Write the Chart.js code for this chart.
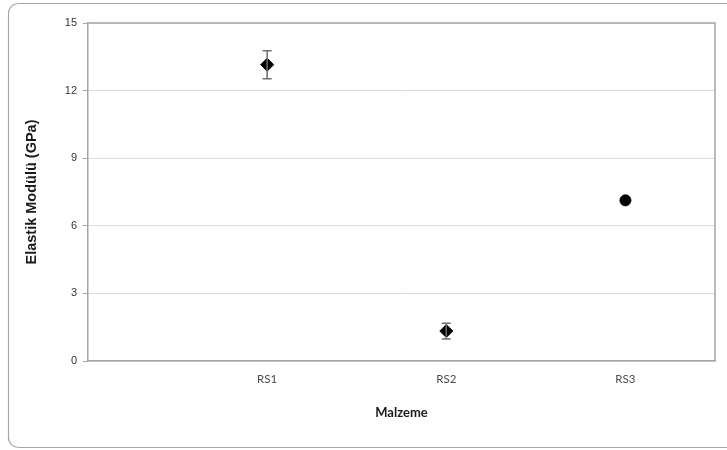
<!DOCTYPE html>
<html>
<head>
<meta charset="utf-8">
<script src="https://cdn.jsdelivr.net/npm/chart.js@4/dist/chart.umd.min.js"></script>
<style>
  html, body { margin: 0; padding: 0; background: #fff; }
  #wrap { width: 727px; height: 450px; position: relative; }
</style>
</head>
<body>
<div id="wrap"><canvas id="c" width="727" height="450"></canvas></div>
<script>
const categories = ['RS1', 'RS2', 'RS3'];
const categoryX = [1, 2, 3];
const modulus = [13.15, 1.33, 7.13];
const modulusErr = [0.62, 0.35, 0.0];
const markerStyles = ['rectRot', 'rectRot', 'circle'];
const yTickValues = [0, 3, 6, 9, 12, 15];

const points = categoryX.map((x, i) => ({ x: x, y: modulus[i] }));

const frame = {
  id: 'frame',
  beforeDraw(chart) {
    const ctx = chart.ctx;
    ctx.save();
    ctx.fillStyle = '#fff';
    ctx.fillRect(0, 0, chart.width, chart.height);
    ctx.strokeStyle = '#a6a6a6';
    ctx.lineWidth = 1.2;
    ctx.beginPath();
    ctx.roundRect(8.5, 3.5, 730, 444, 10);
    ctx.stroke();
    ctx.restore();
  },
  afterDraw(chart) {
    const a = chart.chartArea, ctx = chart.ctx;
    ctx.save();
    ctx.strokeStyle = '#a6a6a6';
    ctx.lineWidth = 1.5;
    ctx.beginPath();
    ctx.moveTo(a.left, a.top);
    ctx.lineTo(a.right, a.top);
    ctx.lineTo(a.right, a.bottom);
    ctx.stroke();
    ctx.restore();
  }
};

const errorBars = {
  id: 'errorBars',
  afterDatasetsDraw(chart) {
    const ctx = chart.ctx;
    const xs = chart.scales.x, ys = chart.scales.y;
    ctx.save();
    ctx.strokeStyle = '#6e6e6e';
    ctx.lineWidth = 1.5;
    categoryX.forEach((xv, i) => {
      const e = modulusErr[i];
      if (!e) return;
      const px = xs.getPixelForValue(xv);
      const top = ys.getPixelForValue(modulus[i] + e);
      const bot = ys.getPixelForValue(modulus[i] - e);
      ctx.beginPath();
      ctx.moveTo(px, top); ctx.lineTo(px, bot);
      ctx.moveTo(px - 4.5, top); ctx.lineTo(px + 4.5, top);
      ctx.moveTo(px - 4.5, bot); ctx.lineTo(px + 4.5, bot);
      ctx.stroke();
    });
    ctx.restore();
  }
};

new Chart(document.getElementById('c'), {
  type: 'scatter',
  data: {
    datasets: [{
      label: 'Elastik Modülü',
      data: points,
      pointStyle: markerStyles,
      pointRadius: [6.5, 6.5, 5.5],
      pointHoverRadius: [6.5, 6.5, 5.5],
      backgroundColor: '#000',
      borderColor: '#000',
      borderWidth: 1
    }]
  },
  options: {
    responsive: false,
    animation: false,
    events: [],
    layout: { padding: { left: 0, top: 23, right: 12, bottom: 0 } },
    plugins: { legend: { display: false }, tooltip: { enabled: false } },
    scales: {
      x: {
        type: 'linear',
        min: 0,
        max: 3.5,
        afterBuildTicks(scale) { scale.ticks = categoryX.map(v => ({ value: v })); },
        afterFit(scale) { scale.height = 89; },
        grid: { display: false },
        border: { display: true, color: '#a6a6a6', width: 1.5 },
        ticks: {
          callback: (v) => categories[categoryX.indexOf(v)] || '',
          color: '#4a4a4a',
          font: { family: 'Lato', size: 11.5 },
          padding: 3,
          maxRotation: 0
        },
        title: {
          display: true,
          text: 'Malzeme',
          color: '#1a1a1a',
          font: { family: 'Lato', size: 13, weight: 'bold' },
          padding: { top: 4, bottom: 29 }
        }
      },
      y: {
        min: 0,
        max: 15,
        afterBuildTicks(scale) { scale.ticks = yTickValues.map(v => ({ value: v })); },
        afterFit(scale) { scale.width = 88; },
        grid: { color: '#dcdcdc', lineWidth: 1, tickLength: 5, tickColor: '#a6a6a6' },
        border: { display: true, color: '#a6a6a6', width: 1.5 },
        ticks: {
          color: '#333',
          font: { family: 'Liberation Sans', size: 11 },
          padding: 6
        },
        title: {
          display: true,
          text: 'Elastik Modülü (GPa)',
          color: '#1a1a1a',
          font: { family: 'Liberation Sans', size: 14.5, weight: 'bold' },
          padding: { top: 23, bottom: 0 }
        }
      }
    }
  },
  plugins: [frame, errorBars]
});
</script>
</body>
</html>
